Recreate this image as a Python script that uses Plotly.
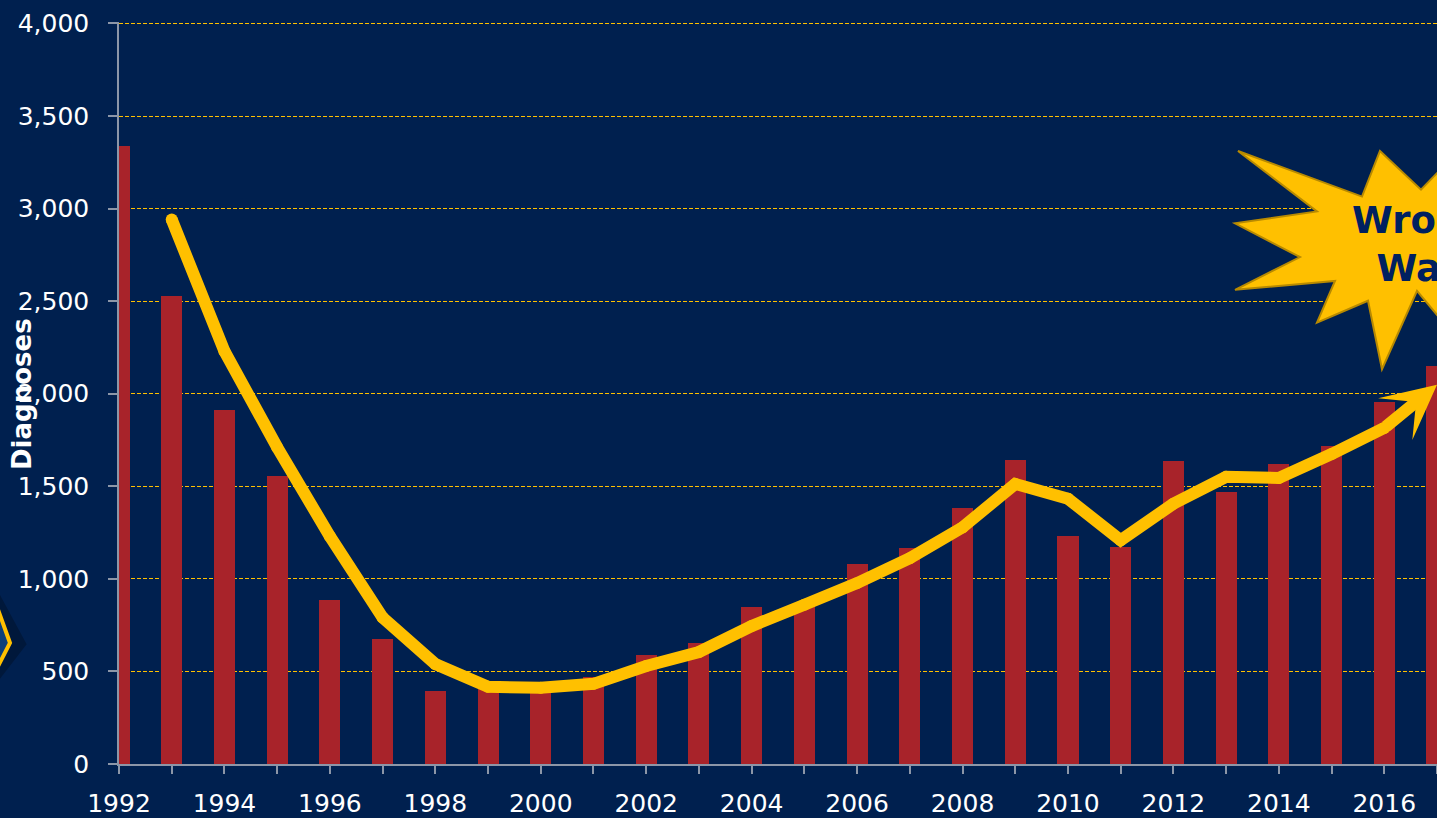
import plotly.graph_objects as go

# ---- data ----
years = list(range(1992, 2018))
diagnoses = [3340, 2530, 1914, 1556, 888, 674, 396, 410, 405, 470, 588, 652,
             850, 870, 1080, 1166, 1385, 1640, 1230, 1171, 1636, 1470, 1620,
             1720, 1957, 2150]
trend_years = list(range(1993, 2018))
trend = [2941, 2230, 1711, 1230, 791, 540, 417, 412, 433, 529, 605, 745, 860,
         977, 1112, 1278, 1513, 1433, 1209, 1406, 1551, 1545, 1674, 1815, 2048]
tick_labels = [str(y) if y % 2 == 0 else "" for y in years]
callout_text = "Wrong<br>Way"

# ---- styles ----
BG = "#00204F"
BAR = "#A8232A"
GOLD = "#FFC000"
AXIS = "#8C96A8"
W, H = 1437, 818
L, R, T, B = 119, 0, 22, 48
PW, PH = W - L - R, H - T - B


def px(x, y):
    return (x - L) / PW, (H - B - y) / PH


def path_from(points):
    parts = []
    for i, (x, y) in enumerate(points):
        u, v = px(x, y)
        parts.append(("M" if i == 0 else "L") + f"{u:.5f},{v:.5f}")
    return " ".join(parts) + " Z"


fig = go.Figure()
fig.add_trace(go.Bar(x=years, y=diagnoses, width=0.4, marker_color=BAR,
                     marker_line_width=0, showlegend=False))

# trend line up to the second-to-last point; last segment drawn as arrow
fig.add_trace(go.Scatter(
    x=trend_years[:-1], y=trend[:-1], mode="lines+markers",
    line=dict(color=GOLD, width=12),
    marker=dict(color=GOLD, size=12, opacity=1, line_width=0),
    showlegend=False))

# starburst callout (pixel-space outline)
star = [(1380, 152), (1362, 198), (1238, 152), (1317, 213), (1235, 225),
        (1300, 259), (1235, 292), (1335, 283), (1317, 325), (1368, 303),
        (1382, 372), (1417, 293), (1460, 345), (1470, 285), (1530, 305),
        (1495, 245), (1545, 205), (1485, 190), (1470, 140), (1421, 191)]
shapes = [
    dict(type="path", xref="paper", yref="paper", path=path_from(star),
         fillcolor=GOLD, line=dict(color="#B88A00", width=2), layer="above"),
    dict(type="path", xref="paper", yref="paper",
         path=path_from([(-40, 560), (-20, 592), (10, 648), (-20, 687), (-40, 720)]),
         fillcolor="rgba(0,0,0,0)", line=dict(color="rgba(0,0,0,0.25)", width=28),
         layer="below"),
    dict(type="path", xref="paper", yref="paper",
         path=path_from([(-40, 560), (-10, 592), (10, 648), (-10, 687), (-40, 720)]),
         fillcolor="#0B3F7A", line=dict(color=GOLD, width=4), layer="above"),
]

annotations = [
    # arrowhead segment of the trend (from previous point to last point)
    dict(x=trend_years[-1], y=trend[-1], xref="x", yref="y",
         ax=trend_years[-2], ay=trend[-2], axref="x", ayref="y",
         showarrow=True, arrowhead=3, arrowsize=0.75, arrowwidth=12,
         arrowcolor=GOLD, text=""),
    dict(text=callout_text, xref="paper", yref="paper",
         x=px(1420, 246)[0], y=px(1420, 246)[1], showarrow=False,
         font=dict(family="DejaVu Sans", size=37, color="#002060", weight="bold"),
         align="center", xanchor="center", yanchor="middle"),
    dict(text="Diagnoses", xref="paper", yref="paper",
         x=px(22, 397)[0], y=px(22, 397)[1], showarrow=False, textangle=-90,
         font=dict(family="DejaVu Sans", size=26, color="white", weight="bold"),
         xanchor="center", yanchor="middle"),
]

fig.update_layout(
    width=W, height=H,
    margin=dict(l=L, r=R, t=T, b=B, pad=0),
    paper_bgcolor=BG, plot_bgcolor=BG,
    font=dict(family="DejaVu Sans", color="white", size=25),
    bargap=0, shapes=shapes, annotations=annotations,
    xaxis=dict(range=[1992, 2017], tickmode="array", tickvals=years,
               ticktext=tick_labels, showgrid=False, zeroline=False,
               showline=True, linecolor=AXIS, linewidth=1.5,
               ticks="outside", ticklen=8, tickcolor=AXIS, tickwidth=1.5,
               tickfont=dict(size=25, color="white"), ticklabelstandoff=8),
    yaxis=dict(range=[0, 4008], dtick=500, tickformat=",",
               showgrid=True, gridcolor=GOLD, gridwidth=1.3,
               griddash="4px,2px", zeroline=False,
               showline=True, linecolor=AXIS, linewidth=1.5,
               ticks="outside", ticklen=9, tickcolor=AXIS, tickwidth=1.5,
               tickfont=dict(size=25, color="white"), ticklabelstandoff=14),
)

fig.write_html("out.html",
               config={"displayModeBar": False},
               post_script="document.body.style.margin='0';"
                           "document.body.style.overflow='hidden';")
